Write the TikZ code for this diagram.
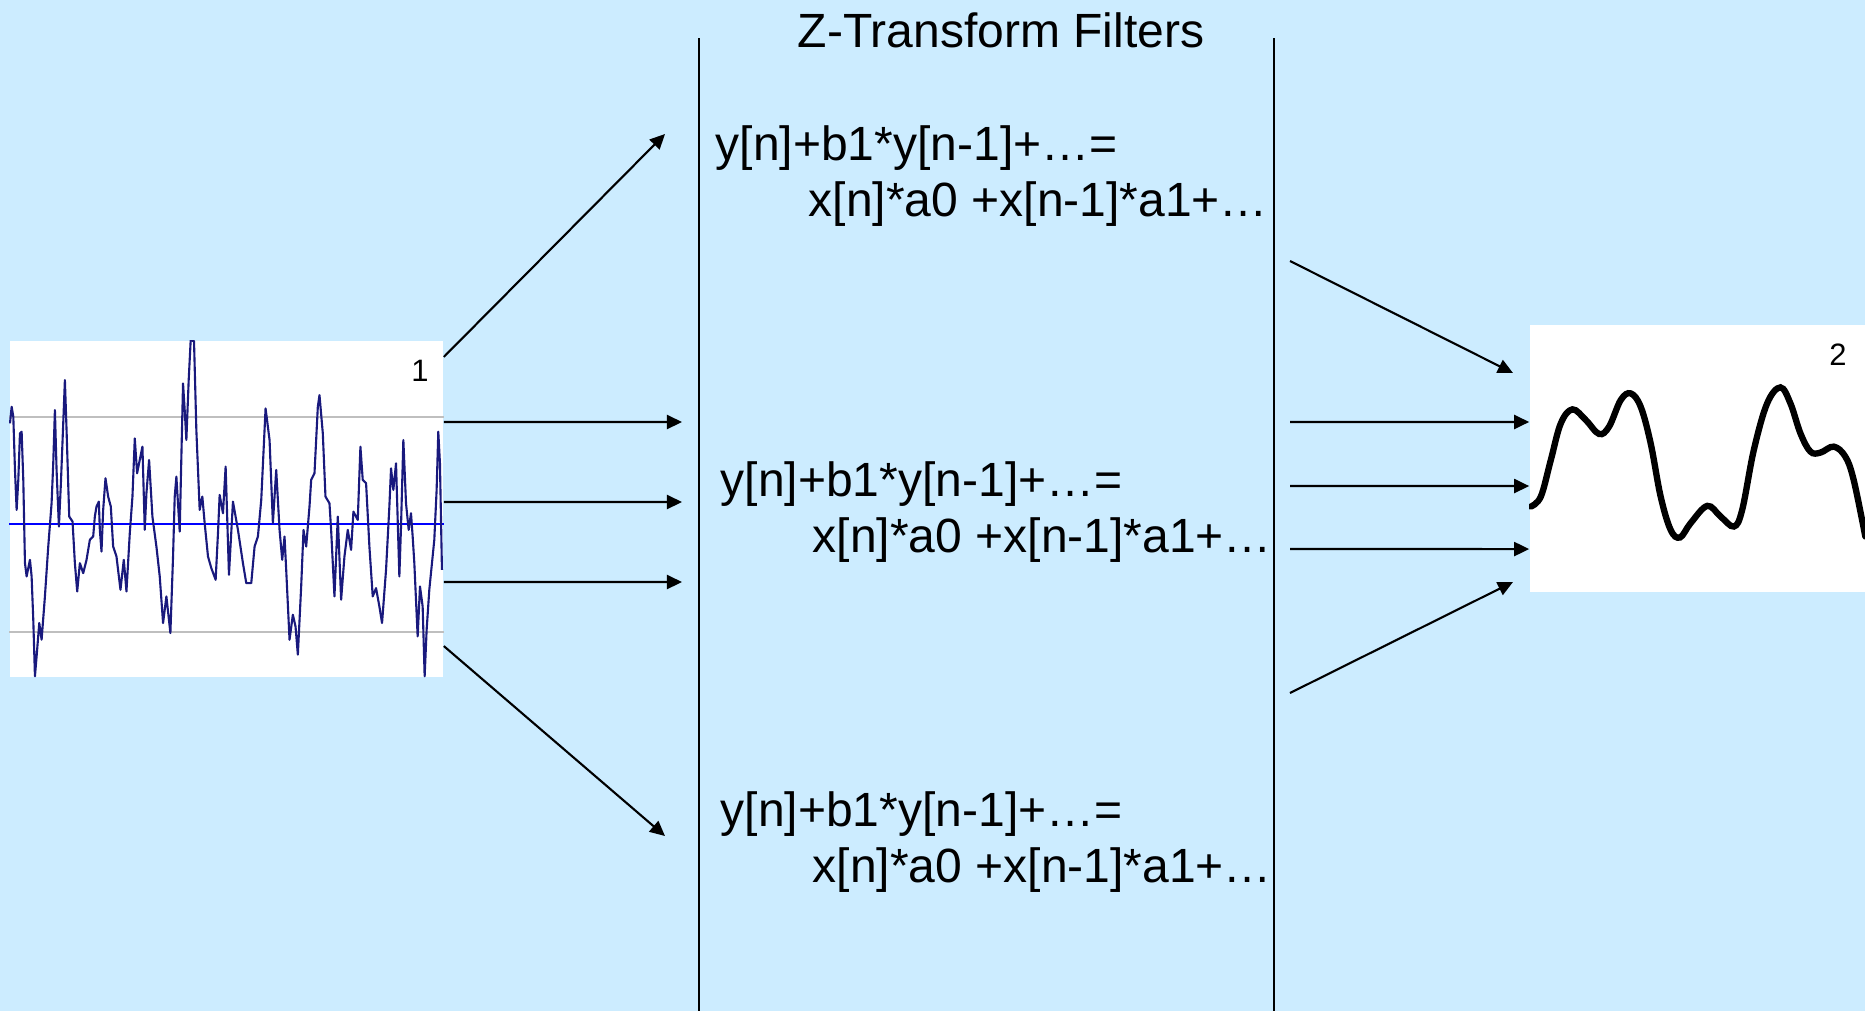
\documentclass[tikz,border=0pt]{standalone}
\usepackage{fontspec}
\setmainfont{Liberation Sans}
\usepackage{tikz}
\usetikzlibrary{arrows.meta,positioning}

\definecolor{slidebg}{RGB}{204,236,255}
\definecolor{noiseblue}{RGB}{25,25,125}

\begin{document}
\begin{tikzpicture}[x=0.01cm, y=-0.01cm,
    sigarrow/.style={-{Triangle[length=0.15cm,width=0.14cm]}, line width=0.6pt},
    plotbox/.style={rectangle, fill=white, inner sep=0pt},
    filtertext/.style={anchor=north west, align=left, inner sep=0pt,
      font=\fontsize{13.66}{15.93}\selectfont},
    divider/.style={line width=0.6pt}]

    % Background
    \useasboundingbox (0,0) rectangle (1865,1011);
    \fill[slidebg] (0,0) rectangle (1865,1011);

    % Filter band
    \node[font=\fontsize{13.66}{15.93}\selectfont, anchor=base] (title) at (1001,47) {Z-Transform Filters};
    \draw[divider] (699,38) -- (699,1011);
    \draw[divider] (1274,38) -- (1274,1011);

    \node[filtertext] (filt1) at (715,125) {y[n]+b1*y[n-1]+…=\\\hspace*{0.93cm}x[n]*a0 +x[n-1]*a1+…};
    \node[filtertext] (filt2) at (720,461) {y[n]+b1*y[n-1]+…=\\\hspace*{0.92cm}x[n]*a0 +x[n-1]*a1+…};
    \node[filtertext] (filt3) at (720,791) {y[n]+b1*y[n-1]+…=\\\hspace*{0.92cm}x[n]*a0 +x[n-1]*a1+…};

    % Input signal
    \node[plotbox, minimum width=4.33cm, minimum height=3.36cm] (sigin) at (226.5,509) {};
    \begin{scope}
      \clip (sigin.north west) rectangle (sigin.south east);
      \draw[black!25, line width=0.35pt] (sigin.west |- 0,417) -- (sigin.east |- 0,417);
      \draw[black!25, line width=0.35pt] (sigin.west |- 0,632) -- (sigin.east |- 0,632);
      \draw[blue, line width=0.4pt] (sigin.west |- 0,524) -- (sigin.east |- 0,524);
      \begin{scope}[yshift=-3.3cm, x=0.003333cm, y=-0.003333cm]
        \draw[noiseblue, line width=0.6pt, line join=round] plot coordinates {
          (30,280) (35,230) (40,260) (45,420) (50,540) (55,450) (60,310) (65,305)
          (70,450) (75,700) (80,740) (90,690) (95,740) (100,870) (105,1040) (110,980)
          (118,880) (125,930) (135,800) (145,650) (155,520) (160,400) (165,240) (170,420)
          (177,590) (183,460) (190,280) (195,150) (200,300) (208,560) (218,575) (225,700)
          (232,785) (240,700) (250,730) (260,690) (270,630) (280,620) (285,560) (290,530)
          (297,515) (300,600) (305,665) (310,540) (317,445) (325,500) (333,530) (340,650)
          (350,680) (362,780) (372,690) (380,785) (390,610) (398,500) (405,325) (412,430)
          (420,390) (428,350) (435,600) (440,490) (448,390) (458,560) (470,650) (480,740)
          (490,880) (500,800) (512,910) (520,680) (525,500) (530,440) (540,605) (545,380)
          (550,160) (555,240) (560,330) (567,150) (573,30) (583,33) (590,300) (600,540)
          (608,500) (615,580) (625,680) (635,715) (648,750) (655,610) (660,495) (670,550)
          (678,410) (688,735) (700,515) (715,600) (730,700) (740,760) (755,760) (765,650)
          (775,620) (785,510) (798,235) (810,330) (820,580) (830,420) (840,600) (848,690)
          (855,620) (860,720) (870,930) (880,855) (888,890) (895,975) (905,770) (912,600)
          (920,650) (930,530) (935,450) (945,430) (955,230) (960,195) (970,310) (978,500)
          (990,520) (995,600) (1005,800) (1015,560) (1025,810) (1035,680) (1045,600) (1055,660)
          (1062,545) (1075,570) (1083,350) (1090,450) (1100,460) (1110,650) (1120,800) (1130,775)
          (1140,830) (1148,880) (1160,720) (1170,530) (1175,415) (1182,480) (1190,400) (1200,740)
          (1205,590) (1212,330) (1220,520) (1228,600) (1235,550) (1240,620) (1245,700) (1255,920)
          (1262,770) (1270,830) (1276,1040) (1282,900) (1290,780) (1300,680) (1305,630) (1312,480)
          (1317,305) (1322,400) (1328,720)};
      \end{scope}
    \end{scope}
    \node[font=\fontsize{8.8}{10}\selectfont] (inlabel) at (420,371) {1};

    % Output signal
    \node[plotbox, minimum width=3.35cm, minimum height=2.67cm] (sigout) at (1697.5,458.5) {};
    \begin{scope}
      \clip (sigout.north west) rectangle (sigout.south east);
      \begin{scope}[xshift=15.2cm, yshift=-3.1cm, x=0.003333cm, y=-0.003333cm]
        \draw[line width=1.8pt, line cap=round] plot[smooth, tension=0.6] coordinates {
          (30,590) (60,560) (90,450) (120,340) (155,298) (195,330) (235,372) (265,350)
          (300,270) (330,250) (360,290) (390,400) (420,560) (450,660) (478,683) (510,640)
          (560,588) (600,620) (640,650) (665,600) (700,420) (740,280) (780,232) (810,280)
          (840,370) (870,425) (900,428) (940,410) (975,440) (1000,510) (1035,680)};
      \end{scope}
    \end{scope}
    \node[font=\fontsize{8.8}{10}\selectfont] (outlabel) at (1838,355) {2};

    % Split into the filters
    \coordinate (split1) at (665,134);
    \coordinate (split2) at (682,422);
    \coordinate (split3) at (682,502);
    \coordinate (split4) at (682,582);
    \coordinate (split5) at (665,836);
    \draw[sigarrow] ([yshift=1.52cm]sigin.east) -- (split1);
    \draw[sigarrow] ([yshift=0.87cm]sigin.east) -- (split2);
    \draw[sigarrow] ([yshift=0.07cm]sigin.east) -- (split3);
    \draw[sigarrow] ([yshift=-0.73cm]sigin.east) -- (split4);
    \draw[sigarrow] ([yshift=-1.37cm]sigin.east) -- (split5);

    % Merge the outputs
    \coordinate (merge1) at (1290,261);
    \coordinate (merge2) at (1290,422);
    \coordinate (merge3) at (1290,486);
    \coordinate (merge4) at (1290,549);
    \coordinate (merge5) at (1290,693);
    \coordinate (tail1) at (1513,373);
    \coordinate (tail5) at (1513,582);
    \draw[sigarrow] (merge1) -- (tail1);
    \draw[sigarrow] (merge2) -- ([yshift=0.365cm]sigout.west);
    \draw[sigarrow] (merge3) -- ([yshift=-0.275cm]sigout.west);
    \draw[sigarrow] (merge4) -- ([yshift=-0.905cm]sigout.west);
    \draw[sigarrow] (merge5) -- (tail5);
\end{tikzpicture}
\end{document}
